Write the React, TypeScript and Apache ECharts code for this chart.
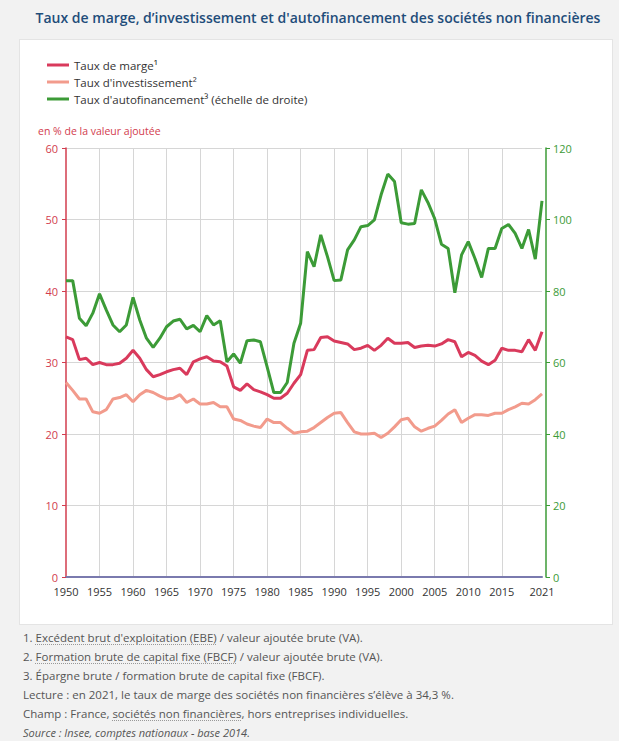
import React, { useEffect, useRef } from "react";
import * as echarts from "echarts";

const years: string[] = [];
for (let y = 1950; y <= 2021; y++) years.push(String(y));

const tauxMarge = [
  33.6, 33.2, 30.4, 30.6, 29.7, 30.0, 29.7, 29.7, 29.9, 30.6,
  31.7, 30.6, 29.0, 28.0, 28.3, 28.7, 29.0, 29.2, 28.3, 30.1,
  30.5, 30.8, 30.2, 30.1, 29.5, 26.6, 26.1, 27.0, 26.2, 25.9,
  25.5, 25.0, 25.0, 25.7, 27.1, 28.3, 31.7, 31.8, 33.5, 33.6,
  33.0, 32.8, 32.6, 31.8, 32.0, 32.4, 31.7, 32.4, 33.4, 32.7,
  32.7, 32.8, 32.1, 32.3, 32.4, 32.3, 32.6, 33.2, 32.9, 30.8,
  31.4, 31.0, 30.2, 29.7, 30.3, 32.0, 31.7, 31.7, 31.5, 33.2,
  31.7, 34.3,
];

const tauxInvestissement = [
  27.2, 26.1, 24.9, 24.9, 23.1, 22.9, 23.4, 24.9, 25.1, 25.5,
  24.5, 25.5, 26.1, 25.8, 25.3, 24.9, 25.0, 25.5, 24.4, 24.9,
  24.2, 24.2, 24.4, 23.8, 23.8, 22.1, 21.9, 21.4, 21.1, 20.9,
  22.1, 21.6, 21.6, 20.8, 20.1, 20.3, 20.4, 20.9, 21.6, 22.3,
  22.9, 23.0, 21.6, 20.3, 20.0, 20.0, 20.1, 19.5, 20.1, 21.0,
  22.0, 22.2, 21.0, 20.4, 20.8, 21.1, 21.9, 22.8, 23.4, 21.6,
  22.2, 22.7, 22.7, 22.6, 22.9, 22.9, 23.4, 23.8, 24.3, 24.2,
  24.8, 25.6,
];

const tauxAutofinancement = [
  82.9, 82.9, 72.4, 70.3, 73.8, 79.2, 74.7, 70.5, 68.6, 70.5,
  78.2, 71.9, 66.8, 64.2, 66.8, 70.0, 71.6, 72.1, 69.4, 70.4,
  68.6, 73.1, 70.5, 71.7, 60.2, 62.4, 59.8, 66.1, 66.3, 65.8,
  58.8, 51.6, 51.6, 54.4, 65.4, 71.0, 91.0, 86.8, 95.7, 89.6,
  82.9, 83.1, 91.5, 94.3, 98.0, 98.3, 99.9, 106.9, 112.7, 110.6,
  99.1, 98.7, 98.9, 108.3, 104.7, 100.2, 93.1, 91.9, 79.5, 90.1,
  93.8, 89.1, 83.8, 91.9, 91.9, 97.5, 98.6, 96.1, 91.9, 97.2,
  88.9, 105.2,
];

const leftTicks = { min: 0, max: 60, interval: 10 };
const rightTicks = { min: 0, max: 120, interval: 20 };

const RED = "#d93a5c";
const SALMON = "#f29b8c";
const GREEN = "#3c9b37";
const AXIS_RED = "#d23c4e";
const FONT = "'Open Sans', 'Noto Sans', sans-serif";

function Chart() {
  const ref = useRef<HTMLDivElement>(null);
  useEffect(() => {
    if (!ref.current) return;
    const chart = echarts.init(ref.current, undefined, { renderer: "svg" });
    chart.setOption({
      animation: false,
      textStyle: { fontFamily: FONT },
      legend: {
        orient: "vertical",
        left: 22,
        top: 14,
        itemWidth: 22,
        itemHeight: 3,
        itemGap: 5,
        icon: "rect",
        textStyle: { fontSize: 11.5, color: "#333", fontFamily: FONT },
        data: [
          { name: "Taux de marge¹" },
          { name: "Taux d'investissement²" },
          { name: "Taux d'autofinancement³ (échelle de droite)" },
        ],
      },
      graphic: [
        {
          type: "text",
          left: 18,
          top: 85,
          style: {
            text: "en % de la valeur ajoutée",
            fill: AXIS_RED,
            fontSize: 10.5,
            fontFamily: FONT,
          },
        },
      ],
      grid: { left: 46, right: 70, top: 108, bottom: 47, containLabel: false },
      xAxis: {
        type: "category",
        data: years,
        boundaryGap: false,
        axisLine: { lineStyle: { color: "#7a7aae", width: 2 } },
        axisTick: { show: false },
        axisLabel: {
          interval: (i: number) => (i % 5 === 0 && i <= 65) || i === 71,
          color: "#333",
          fontSize: 11,
          margin: 9,
          fontFamily: FONT,
        },
        splitLine: {
          show: true,
          interval: (i: number) => i % 5 === 0 && i > 0 && i <= 65,
          lineStyle: { color: "#d6d6d6", width: 1 },
        },
      },
      yAxis: [
        {
          type: "value",
          min: leftTicks.min,
          max: leftTicks.max,
          interval: leftTicks.interval,
          axisLine: { show: true, lineStyle: { color: AXIS_RED, width: 1.5 } },
          axisTick: { show: true, length: 4, lineStyle: { color: AXIS_RED } },
          axisLabel: { color: AXIS_RED, fontSize: 11, margin: 8, fontFamily: FONT },
          splitLine: { show: true, lineStyle: { color: "#d6d6d6", width: 1 } },
        },
        {
          type: "value",
          position: "right",
          offset: 4,
          min: rightTicks.min,
          max: rightTicks.max,
          interval: rightTicks.interval,
          axisLine: { show: true, lineStyle: { color: GREEN, width: 1.5 } },
          axisTick: { show: true, length: 4, lineStyle: { color: GREEN } },
          axisLabel: { color: GREEN, fontSize: 11, margin: 7, fontFamily: FONT },
          splitLine: { show: false },
        },
      ],
      series: [
        {
          name: "Taux de marge¹",
          type: "line",
          data: tauxMarge,
          yAxisIndex: 0,
          showSymbol: false,
          color: RED,
          lineStyle: { width: 3, color: RED },
          z: 3,
        },
        {
          name: "Taux d'investissement²",
          type: "line",
          data: tauxInvestissement,
          yAxisIndex: 0,
          showSymbol: false,
          color: SALMON,
          lineStyle: { width: 3, color: SALMON },
          z: 2,
        },
        {
          name: "Taux d'autofinancement³ (échelle de droite)",
          type: "line",
          data: tauxAutofinancement,
          yAxisIndex: 1,
          showSymbol: false,
          color: GREEN,
          lineStyle: { width: 3, color: GREEN },
          z: 4,
        },
      ],
    });
    return () => chart.dispose();
  }, []);
  return <div ref={ref} style={{ width: 592, height: 584 }} />;
}

const dotted: React.CSSProperties = {
  textDecoration: "underline dotted #999",
  textUnderlineOffset: 2,
};

export default function App() {
  return (
    <div
      style={{
        position: "absolute",
        left: 0,
        top: 0,
        width: 619,
        height: 741,
        background: "#f2f2f2",
        fontFamily: FONT,
        overflow: "hidden",
      }}
    >
      <div
        style={{
          position: "absolute",
          left: 22,
          width: 592,
          top: 8,
          textAlign: "center",
          color: "#1f4d7a",
          fontSize: 14,
          fontWeight: 600,
          whiteSpace: "nowrap",
        }}
      >
        Taux de marge, d’investissement et d'autofinancement des sociétés non financières
      </div>
      <div
        style={{
          position: "absolute",
          left: 20,
          top: 40,
          width: 592,
          height: 584,
          background: "#fff",
          boxShadow: "0 0 0 1px #e4e4e4",
        }}
      >
        <Chart />
      </div>
      <div
        style={{
          position: "absolute",
          left: 23,
          top: 628,
          fontSize: 11.5,
          lineHeight: "19px",
          color: "#555",
          whiteSpace: "nowrap",
        }}
      >
        <div>
          1. <span style={dotted}>Excédent brut d'exploitation (EBE)</span> / valeur ajoutée brute (VA).
        </div>
        <div>
          2. <span style={dotted}>Formation brute de capital fixe (FBCF)</span> / valeur ajoutée brute (VA).
        </div>
        <div>3. Épargne brute / formation brute de capital fixe (FBCF).</div>
        <div>Lecture : en 2021, le taux de marge des sociétés non financières s’élève à 34,3 %.</div>
        <div>
          Champ : France, <span style={dotted}>sociétés non financières</span>, hors entreprises individuelles.
        </div>
        <div style={{ fontStyle: "italic", fontSize: 11 }}>
          Source : Insee, comptes nationaux - base 2014.
        </div>
      </div>
    </div>
  );
}
